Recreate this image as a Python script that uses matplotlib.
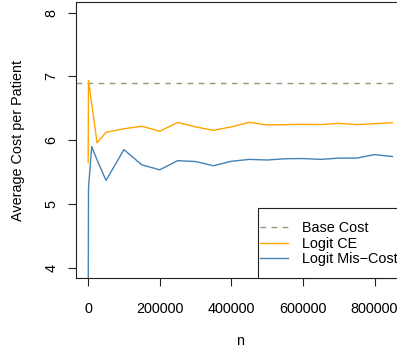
#!/usr/bin/env python3

import matplotlib
matplotlib.use("Agg")
import matplotlib.pyplot as plt
from matplotlib.patches import Rectangle
import numpy as np

# sample sizes and average cost per patient
n = [100, 1000, 10000, 25000, 50000, 100000, 150000, 200000, 250000, 300000,
     350000, 400000, 450000, 500000, 550000, 600000, 650000, 700000, 750000,
     800000, 850000]
logit_ce = [5.65, 6.94, 6.57, 5.96, 6.125, 6.18, 6.22, 6.14, 6.28, 6.21,
            6.155, 6.21, 6.28, 6.24, 6.245, 6.25, 6.245, 6.265, 6.245, 6.26, 6.275]
logit_miscost = [3.0, 5.25, 5.9, 5.69, 5.37, 5.853, 5.614, 5.536, 5.68, 5.666,
                 5.6, 5.67, 5.70, 5.69, 5.71, 5.713, 5.70, 5.72, 5.72, 5.775, 5.744]
base_cost = 6.9

series_labels = ["Base Cost", "Logit CE", "Logit Mis\u2212Cost"]
x_ticks = [0, 200000, 400000, 600000, 800000]
y_ticks = [4, 5, 6, 7, 8]


def main():

    plt.rcParams["font.family"] = ["Liberation Sans", "DejaVu Sans"]
    plt.rcParams["font.size"] = 10.4

    W, H = 397, 347
    figure = plt.figure(figsize=(W / 100, H / 100), dpi=100)

    # plot region runs past the right edge, like the cropped original
    left, right, bottom, top = 76, 404.6, 278, 2.5
    graph = figure.add_axes([left / W, 1 - bottom / H, (right - left) / W, (bottom - top) / H])

    x = np.array(n)
    pad = 0.04 * (x.max() - x.min())
    graph.set_xlim(x.min() - pad, x.max() + pad)
    graph.set_ylim(3.84, 8.16)

    base = graph.axhline(base_cost, color="#8c9c70", lw=1.0, dashes=(4, 4), label=series_labels[0])
    ce, = graph.plot(n, logit_ce, color="#FFA500", lw=1.0, label=series_labels[1])
    mc, = graph.plot(n, logit_miscost, color="#4682B4", lw=1.0, label=series_labels[2])

    graph.set_xticks(x_ticks)
    graph.set_xticklabels([str(i) for i in x_ticks])
    graph.set_yticks(y_ticks)
    graph.set_yticklabels([str(i) for i in y_ticks], rotation=90, va="center")
    graph.tick_params(length=5.5, width=0.8, pad=7, color="#222222")
    graph.tick_params(axis="x", pad=11.5)

    for spine in graph.spines.values():
        spine.set_linewidth(0.8)
        spine.set_color("#222222")

    graph.set_xlabel("n", va="center")
    graph.xaxis.set_label_coords(0.5, -0.229)
    graph.set_ylabel("Average Cost per Patient", va="center")
    graph.yaxis.set_label_coords(-0.177, 0.5)

    # legend box in the bottom right corner
    box_x = (258 - left) / (right - left)
    box_y = (bottom - 208) / (bottom - top)
    graph.add_patch(Rectangle((box_x, 0), 1 - box_x, box_y, transform=graph.transAxes,
                              facecolor="white", edgecolor="#222222", lw=0.8,
                              clip_on=False, zorder=4))
    leg_x = (260 - left) / (right - left)
    leg_y = (bottom - 221) / (bottom - top)
    legend = graph.legend(handles=[base, ce, mc], loc="upper left", bbox_to_anchor=(leg_x, leg_y),
                          frameon=False, borderpad=0, borderaxespad=0, handlelength=1.94,
                          handletextpad=0.95, labelspacing=0.12)
    legend.set_zorder(5)

    figure.savefig("out.png", dpi=100)


if __name__ == "__main__":

    main()
